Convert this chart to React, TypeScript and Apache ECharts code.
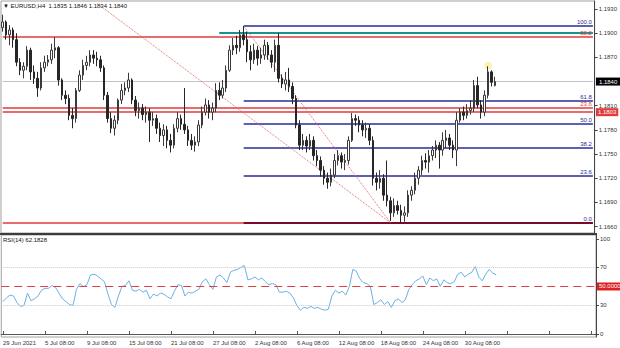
import React, { useEffect, useRef } from 'react';
import * as echarts from 'echarts';

const tickLabels = ['29 Jun 2021', '5 Jul 08:00', '9 Jul 08:00', '15 Jul 08:00', '21 Jul 08:00', '27 Jul 08:00', '2 Aug 08:00', '6 Aug 08:00', '12 Aug 08:00', '18 Aug 08:00', '24 Aug 08:00', '30 Aug 08:00'];

const opens = [1.1907,1.1914,1.1898,1.1904,1.1892,1.1864,1.1854,1.1859,1.1879,1.1852,1.1844,1.1832,1.1857,1.1864,1.1867,1.1879,1.1882,1.1842,1.1823,1.1819,
1.1798,1.1794,1.1829,1.1848,1.1860,1.1864,1.1873,1.1869,1.1867,1.1857,1.1823,1.1794,1.1782,1.1792,1.1817,1.1829,1.1832,1.1842,1.1817,1.1804,
1.1807,1.1799,1.1802,1.1792,1.1794,1.1782,1.1773,1.1780,1.1767,1.1761,1.1782,1.1794,1.1787,1.1780,1.1767,1.1761,1.1765,1.1786,1.1802,1.1811,
1.1802,1.1807,1.1829,1.1823,1.1832,1.1854,1.1879,1.1885,1.1882,1.1898,1.1892,1.1877,1.1867,1.1879,1.1869,1.1873,1.1885,1.1873,1.1864,1.1885,
1.1844,1.1837,1.1842,1.1834,1.1819,1.1786,1.1761,1.1767,1.1760,1.1767,1.1748,1.1742,1.1730,1.1720,1.1715,1.1724,1.1742,1.1748,1.1740,1.1742,
1.1767,1.1794,1.1792,1.1786,1.1780,1.1782,1.1767,1.1720,1.1715,1.1720,1.1699,1.1692,1.1677,1.1686,1.1680,1.1674,1.1677,1.1699,1.1705,1.1720,
1.1730,1.1742,1.1740,1.1748,1.1755,1.1761,1.1755,1.1767,1.1770,1.1761,1.1755,1.1792,1.1802,1.1798,1.1804,1.1807,1.1835,1.1811,1.1802,1.1823,
1.1852,1.1835];

const closes = [1.1914,1.1898,1.1904,1.1892,1.1864,1.1854,1.1859,1.1879,1.1852,1.1844,1.1832,1.1857,1.1864,1.1867,1.1879,1.1882,1.1842,1.1823,1.1819,1.1798,
1.1794,1.1829,1.1848,1.1860,1.1864,1.1873,1.1869,1.1867,1.1857,1.1823,1.1794,1.1782,1.1792,1.1817,1.1829,1.1832,1.1842,1.1817,1.1804,1.1807,
1.1799,1.1802,1.1792,1.1794,1.1782,1.1773,1.1780,1.1767,1.1761,1.1782,1.1794,1.1787,1.1780,1.1767,1.1761,1.1765,1.1786,1.1802,1.1811,1.1802,
1.1807,1.1829,1.1823,1.1832,1.1854,1.1879,1.1885,1.1882,1.1898,1.1892,1.1877,1.1867,1.1879,1.1869,1.1873,1.1885,1.1873,1.1864,1.1885,1.1844,
1.1837,1.1842,1.1834,1.1819,1.1786,1.1761,1.1767,1.1760,1.1767,1.1748,1.1742,1.1730,1.1720,1.1715,1.1724,1.1742,1.1748,1.1740,1.1742,1.1767,
1.1794,1.1792,1.1786,1.1780,1.1782,1.1767,1.1720,1.1715,1.1720,1.1699,1.1692,1.1677,1.1686,1.1680,1.1674,1.1677,1.1699,1.1705,1.1720,1.1730,
1.1742,1.1740,1.1748,1.1755,1.1761,1.1755,1.1767,1.1770,1.1761,1.1755,1.1792,1.1802,1.1798,1.1804,1.1807,1.1835,1.1811,1.1802,1.1823,1.1852,
1.1839,1.1840];

const lows = [1.1902,1.1892,1.1885,1.1882,1.1859,1.1848,1.1844,1.1854,1.1842,1.1837,1.1821,1.1829,1.1852,1.1859,1.1862,1.1869,1.1835,1.1817,1.1812,1.1792,
1.1782,1.1789,1.1827,1.1842,1.1854,1.1859,1.1862,1.1859,1.1852,1.1817,1.1789,1.1776,1.1773,1.1787,1.1812,1.1823,1.1827,1.1812,1.1797,1.1794,
1.1792,1.1789,1.1765,1.1785,1.1775,1.1765,1.1760,1.1757,1.1752,1.1757,1.1777,1.1780,1.1775,1.1760,1.1755,1.1753,1.1760,1.1782,1.1798,1.1794,
1.1792,1.1802,1.1817,1.1819,1.1827,1.1852,1.1873,1.1874,1.1877,1.1885,1.1864,1.1854,1.1862,1.1860,1.1862,1.1867,1.1867,1.1857,1.1852,1.1839,
1.1832,1.1829,1.1827,1.1812,1.1782,1.1755,1.1755,1.1752,1.1755,1.1742,1.1735,1.1722,1.1712,1.1707,1.1710,1.1720,1.1736,1.1732,1.1730,1.1737,
1.1765,1.1785,1.1777,1.1772,1.1770,1.1761,1.1711,1.1705,1.1707,1.1692,1.1685,1.1667,1.1672,1.1675,1.1665,1.1666,1.1672,1.1692,1.1700,1.1712,
1.1724,1.1732,1.1727,1.1742,1.1745,1.1732,1.1748,1.1757,1.1755,1.1745,1.1735,1.1789,1.1792,1.1794,1.1799,1.1802,1.1807,1.1794,1.1797,1.1819,
1.1834,1.1834];

const highs = [1.1923,1.1916,1.1910,1.1907,1.1900,1.1869,1.1864,1.1884,1.1882,1.1860,1.1852,1.1864,1.1872,1.1873,1.1887,1.1895,1.1884,1.1844,1.1829,1.1824,
1.1807,1.1832,1.1854,1.1867,1.1872,1.1879,1.1879,1.1877,1.1872,1.1860,1.1827,1.1802,1.1798,1.1819,1.1837,1.1839,1.1851,1.1844,1.1822,1.1814,
1.1812,1.1809,1.1807,1.1802,1.1799,1.1789,1.1787,1.1785,1.1775,1.1787,1.1802,1.1799,1.1832,1.1785,1.1775,1.1772,1.1792,1.1809,1.1819,1.1817,
1.1814,1.1838,1.1839,1.1842,1.1860,1.1885,1.1894,1.1897,1.1904,1.1909,1.1902,1.1885,1.1887,1.1884,1.1882,1.1892,1.1889,1.1879,1.1892,1.1900,
1.1849,1.1852,1.1857,1.1839,1.1823,1.1792,1.1775,1.1772,1.1775,1.1772,1.1755,1.1747,1.1735,1.1727,1.1732,1.1750,1.1755,1.1752,1.1750,1.1772,
1.1801,1.1799,1.1797,1.1792,1.1789,1.1787,1.1772,1.1727,1.1730,1.1725,1.1742,1.1697,1.1695,1.1692,1.1687,1.1685,1.1705,1.1710,1.1727,1.1735,
1.1748,1.1751,1.1755,1.1760,1.1767,1.1765,1.1777,1.1780,1.1775,1.1767,1.1802,1.1807,1.1809,1.1812,1.1817,1.1842,1.1846,1.1817,1.1829,1.1859,
1.1854,1.1846];

const rsiValues = [34,38,41,40,33,29,30,43,35,37,40,46,48,48,51,49,43,37,34,31,
30,47,53,50,52,62,63,61,58,55,42,31,28,40,50,51,56,46,45,47,
44,46,37,42,40,43,42,39,37,45,52,51,40,44,43,45,47,55,58,52,
47,60,62,59,54,65,67,68,70,72,57,58,60,57,59,55,52,53,52,44,
44,45,43,38,30,25,28,27,29,27,28,26,25,26,40,46,43,45,41,50,
68,66,58,54,53,50,31,33,36,31,34,28,35,37,33,36,47,52,56,58,
61,52,59,56,58,50,57,54,53,55,63,65,60,63,65,71,60,56,63,68,
64,62.1828];

const priceTicks = [1.166, 1.169, 1.172, 1.175, 1.178, 1.181, 1.187, 1.19, 1.193];
const rsiTicks = [0, 30, 70, 100];
const fibLevels: [string, number][] = [['100.0', 1.1909], ['61.8', 1.1816], ['50.0', 1.1787], ['38.2', 1.1758], ['23.6', 1.1723]];
const fibZero: [string, number] = ['0.0', 1.1665];
const fibStartIndex = 69;
const tealLevel = 1.19;
const tealStartIndex = 62;
const redLevels: [string, number][] = [['38.2', 1.1895], ['23.6', 1.1807]];
const redBoxLevel = 1.1802;
const redBoxText = '1.1803';
const bidPrice = 1.184;
const trendLineA: [number, number][] = [[27, 1.1937], [111, 1.1665]];
const trendLineB: [number, number][] = [[69, 1.1909], [111, 1.1665]];
const highlightPoint: [number, number] = [139, 1.1860];
const rsiLevels = [70, 30];
const rsiMid = 50;
const SLOTS = 170;

const FONT = '"Liberation Sans", Arial, sans-serif';

export default function App() {
  const ref = useRef<HTMLDivElement>(null);
  useEffect(() => {
    if (!ref.current) return;
    const chart = echarts.init(ref.current, undefined, { renderer: 'svg' });
    const cats = Array.from({ length: SLOTS }, (_, i) => String(i));
    const candles = opens.map((o, i) => [o, closes[i], lows[i], highs[i]]);
    const last = opens.length - 1;
    const lastEnd = SLOTS - 1;
    const red = '#e23b3b';
    const navy = '#2b2b96';

    const pairLine = (a: [number, number], b: [number, number], lineStyle: any, label?: any) => {
      const lbl = label || { show: false };
      return [
        { coord: a, lineStyle, label: lbl },
        { coord: b, lineStyle, label: lbl },
      ];
    };
    const fullLine = (v: number, lineStyle: any, label?: any) => pairLine([0, v], [lastEnd, v], lineStyle, label);

    const markData: any[] = [
      fullLine(bidPrice, { color: '#c4c4c4', type: 'solid', width: 1 },
        { show: true, position: 'end', distance: 3, formatter: bidPrice.toFixed(4), backgroundColor: '#000', color: '#fff', fontSize: 6, fontFamily: FONT, padding: [1, 3, 1, 3] }),
      ...redLevels.map(([t, v]) => fullLine(v, { color: red, type: 'solid', width: 1.5 },
        { show: true, position: 'insideEndTop', distance: 1, formatter: t, color: red, fontSize: 6, fontFamily: FONT })),
      fullLine(redBoxLevel, { color: red, type: 'solid', width: 1.5 },
        { show: true, position: 'end', distance: 3, formatter: redBoxText, backgroundColor: red, color: '#fff', fontSize: 6, fontFamily: FONT, padding: [1, 2, 1, 2] }),
      fullLine(fibZero[1], { color: red, type: 'solid', width: 1.5 }),
      pairLine([tealStartIndex, tealLevel], [lastEnd, tealLevel], { color: '#17938a', type: 'solid', width: 2 }),
      ...fibLevels.map(([t, v]) => pairLine([fibStartIndex, v], [lastEnd, v], { color: navy, type: 'solid', width: 1.5 },
        { show: true, position: 'insideEndTop', distance: 1, formatter: t, color: navy, fontSize: 6, fontFamily: FONT })),
      pairLine([fibStartIndex, fibZero[1]], [lastEnd, fibZero[1]], { color: '#7a0a2a', type: 'solid', width: 2 },
        { show: true, position: 'insideEndTop', distance: 1, formatter: fibZero[0], color: navy, fontSize: 6, fontFamily: FONT }),
      pairLine(trendLineA[0], trendLineA[1], { color: '#e06a6a', type: 'dotted', width: 1 }),
      pairLine(trendLineB[0], trendLineB[1], { color: '#e06a6a', type: 'dotted', width: 1 }),
    ];

    const option: any = {
      animation: false,
      backgroundColor: '#ffffff',
      textStyle: { fontFamily: FONT },
      grid: [
        { left: 1, right: 24, top: 1, height: 232, show: true, borderColor: '#a0a0a0', borderWidth: 1, backgroundColor: '#fff' },
        { left: 1, right: 24, top: 235, height: 102, show: true, borderColor: '#a0a0a0', borderWidth: 1, backgroundColor: '#fff' },
      ],
      xAxis: [
        { type: 'category', gridIndex: 0, data: cats, boundaryGap: true, show: false },
        { type: 'category', gridIndex: 1, data: cats, boundaryGap: true,
          axisLine: { show: true, lineStyle: { color: '#555' } },
          axisTick: { show: true, interval: 11, alignWithLabel: true, length: 3, inside: true, lineStyle: { color: '#555' } },
          axisLabel: { interval: 11, align: 'left', margin: 3, fontSize: 6, color: '#333', fontFamily: FONT,
            formatter: (_v: string, idx: number) => (idx % 12 === 0 && tickLabels[idx / 12]) ? tickLabels[idx / 12] : '' },
          splitLine: { show: false } },
      ],
      yAxis: [
        { type: 'value', gridIndex: 0, position: 'right', min: 1.1652, max: 1.1940, splitLine: { show: false },
          axisLine: { show: true, lineStyle: { color: '#444' } },
          axisTick: { show: true, length: 3, customValues: priceTicks, lineStyle: { color: '#444' } },
          axisLabel: { customValues: priceTicks, formatter: (v: number) => v.toFixed(4), fontSize: 6, color: '#333', margin: 4, fontFamily: FONT } },
        { type: 'value', gridIndex: 1, position: 'right', min: -3.2, max: 104.2, splitLine: { show: false },
          axisLine: { show: true, lineStyle: { color: '#444' } },
          axisTick: { show: true, length: 3, customValues: rsiTicks, lineStyle: { color: '#444' } },
          axisLabel: { customValues: rsiTicks, formatter: (v: number) => String(v), fontSize: 6, color: '#333', margin: 4, fontFamily: FONT } },
      ],
      series: [
        {
          type: 'candlestick', xAxisIndex: 0, yAxisIndex: 0, data: candles, barWidth: 2, z: 3,
          itemStyle: { color: '#ffffff', color0: '#262626', borderColor: '#3a3a3a', borderColor0: '#262626', borderWidth: 1 },
          markLine: { silent: true, symbol: ['none', 'none'], animation: false, z: 2, data: markData },
        },
        {
          type: 'scatter', xAxisIndex: 0, yAxisIndex: 0, data: [highlightPoint], symbolSize: 8, z: 2,
          itemStyle: { color: 'rgba(255,226,90,0.55)' }, silent: true,
        },
        {
          type: 'line', xAxisIndex: 1, yAxisIndex: 1, data: rsiValues, showSymbol: false, symbol: 'none',
          lineStyle: { color: '#6cb0e2', width: 1 }, z: 3,
          markLine: { silent: true, symbol: ['none', 'none'], animation: false, data: [
            ...rsiLevels.map((v) => ({ yAxis: v, lineStyle: { color: '#c9c9c9', type: 'dotted', width: 1 }, label: { show: false } })),
            { yAxis: rsiMid, lineStyle: { color: '#e04040', type: [8, 5], width: 1 },
              label: { show: true, position: 'end', distance: 1, formatter: rsiMid.toFixed(4), backgroundColor: '#e02020', color: '#fff', fontSize: 6, fontFamily: FONT, padding: [1, 2, 1, 2] } },
          ] },
        },
      ],
      graphic: [
        { type: 'rect', shape: { x: 0, y: 233, width: 597, height: 2 }, style: { fill: '#3c3c3c' }, silent: true },
        { type: 'text', x: 3, y: 3, style: { text: '\u25BC EURUSD,H4  ' + [opens[last], highs[last], lows[last], closes[last]].map((v) => v.toFixed(4)).join(' '), fontSize: 6, fill: '#111', fontFamily: FONT } },
        { type: 'text', x: 3, y: 237, style: { text: 'RSI(14) ' + rsiValues[rsiValues.length - 1].toFixed(4), fontSize: 6, fill: '#111', fontFamily: FONT } },
      ],
    };
    chart.setOption(option);
    return () => chart.dispose();
  }, []);
  return <div ref={ref} style={{ position: 'absolute', left: 0, top: 0, width: 620, height: 348 }} />;
}
